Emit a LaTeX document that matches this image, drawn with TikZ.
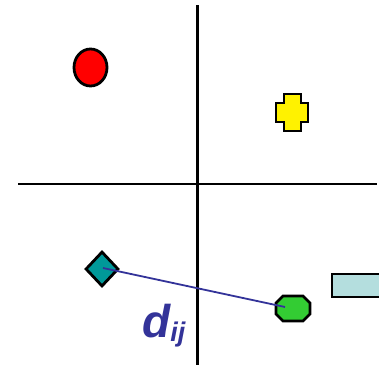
\documentclass[tikz,border=0pt]{standalone}
\usepackage{fontspec}
\setmainfont{Liberation Sans}
\usetikzlibrary{shapes.geometric}
\definecolor{dblue}{RGB}{51,51,153}
\definecolor{teal2}{RGB}{0,153,153}
\definecolor{green2}{RGB}{51,204,51}
\definecolor{lblue}{RGB}{180,222,222}
\begin{document}
\begin{tikzpicture}[x=1pt,y=-1pt,
  shapeline/.style={draw=black,line width=2.8pt,line join=miter},
  axis/.style={draw=black,line width=2.3pt}]
\useasboundingbox (0,0) rectangle (379,364);
% axes
\coordinate (vt) at (197.5,5);
\coordinate (vb) at (197.5,366);
\coordinate (hl) at (18,184);
\coordinate (hr) at (377,184);
\draw[axis] (vt) -- (vb);
\draw[axis] (hl) -- (hr);
% red circle
\node[ellipse,shapeline,fill=red,minimum width=33pt,minimum height=37pt,inner sep=0pt] (circ) at (90.5,67.5) {};
% yellow cross
\draw[shapeline,fill=yellow] (284,94) -- (301,94) -- (301,103) -- (308,103) -- (308,122) -- (301,122) -- (301,131) -- (284,131) -- (284,122) -- (276,122) -- (276,103) -- (284,103) -- cycle;
\coordinate (cross) at (292,112.5);
% teal diamond
\node[diamond,shapeline,fill=teal2,minimum width=33pt,minimum height=35pt,inner sep=0pt,aspect=1] (diam) at (102,269) {};
% green octagon
\draw[shapeline,fill=green2] (283,296) -- (303,296) -- (310,303) -- (310,314) -- (303,321) -- (283,321) -- (276,314) -- (276,303) -- cycle;
\coordinate (oct) at (285,307);
% light blue rectangle
\draw[shapeline,fill=lblue] (390,274) -- (332,274) -- (332,297) -- (390,297);
% distance line
\coordinate (dstart) at (103,268);
\draw[dblue,line width=1.8pt] (dstart) -- (oct);
% label
\node[anchor=base west,inner sep=0pt,text=dblue,font=\fontsize{46}{46}\selectfont\bfseries\itshape] (lab) at (142,337) {d\raisebox{-4pt}{\fontsize{27}{27}\selectfont ij}};
\end{tikzpicture}
\end{document}
